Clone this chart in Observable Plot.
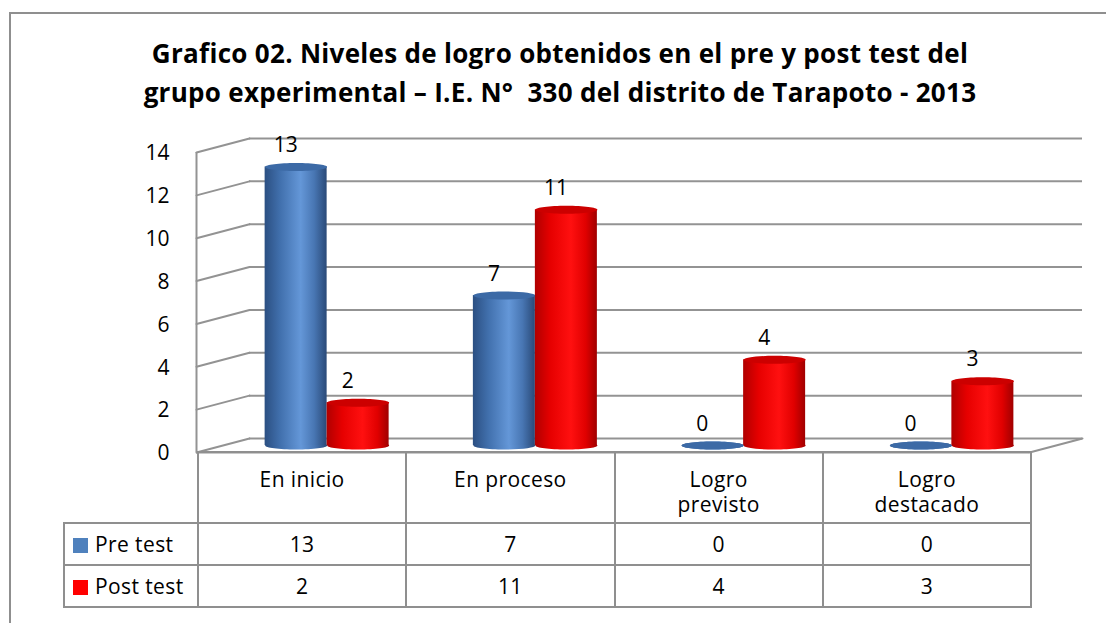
<!DOCTYPE html>
<html><head><meta charset="utf-8">
<script src="https://cdn.jsdelivr.net/npm/d3@7"></script>
<script src="https://cdn.jsdelivr.net/npm/@observablehq/plot@0.6"></script>
<style>
html,body{margin:0;padding:0;background:#fff;}
body{width:1106px;height:623px;overflow:hidden;position:relative;font-family:"Open Sans",sans-serif;color:#000;}
#frame{position:absolute;left:9px;top:12px;width:1200px;height:700px;border:2px solid #8f8f8f;box-sizing:border-box;}
#title{position:absolute;left:0;width:1120px;top:34px;text-align:center;font-weight:bold;font-size:26px;letter-spacing:0.3px;line-height:39px;white-space:pre;}
#chart{position:absolute;left:0;top:0;}
#tbl{position:absolute;left:63px;top:451px;border-collapse:collapse;table-layout:fixed;font-size:21px;letter-spacing:0.4px;}
#tbl td{border:2px solid #8f8f8f;padding:0;text-align:center;}
#tbl td.blank{border:none;}
#tbl tr.head td{height:71px;vertical-align:top;padding-top:14px;line-height:25px;white-space:pre-line;box-sizing:border-box;}
#tbl tr.row td{height:40px;vertical-align:middle;}
#tbl td.name{text-align:left;padding-left:8px;white-space:nowrap;}
.sw{display:inline-block;width:15px;height:15px;margin-right:7px;vertical-align:-1px;}
</style></head>
<body>
<div id="frame"></div>
<div id="title"></div>
<div id="chart"></div>
<script>
// ---- data ----
const titleLines = ["Grafico 02. Niveles de logro obtenidos en el pre y post test del",
                    "grupo experimental – I.E. N°  330 del distrito de Tarapoto - 2013"];
const categories = ["En inicio", "En proceso", "Logro previsto", "Logro destacado"];
const categoryLabels = ["En inicio", "En proceso", "Logro\nprevisto", "Logro\ndestacado"];
const seriesNames = ["Pre test", "Post test"];
const preTest = [13, 7, 0, 0];
const postTest = [2, 11, 4, 3];
const yTicks = [0, 2, 4, 6, 8, 10, 12, 14];

// ---- styles ----
const gridColor = "#939393";
const depthX = 53, depthY = 14;            // 3D box depth in px
const depthLen = Math.hypot(depthX, depthY);
const depthAngle = Math.atan2(depthX, depthY) * 180 / Math.PI;
const barW = 62, capRy = 4;
const seriesStyle = [
  {grad: "gPre", cap: "#3c6aa6", swatch: "#4f81bd", shift: -barW / 2,
   stops: [[0, "#2b4f82"], [0.25, "#4170ad"], [0.58, "#6497d8"], [0.8, "#4876b3"], [1, "#2a4a78"]]},
  {grad: "gPost", cap: "#cc0000", swatch: "#ff0000", shift: barW / 2,
   stops: [[0, "#b00000"], [0.25, "#e60000"], [0.58, "#ff1010"], [0.82, "#e00000"], [1, "#a00000"]]}
];
const seriesValues = [preTest, postTest];

document.getElementById("title").textContent = titleLines.join("\n");

const ellipse = (rx, ry) => ({draw(c) {
  const k = 0.5523, ox = rx * k, oy = ry * k;
  c.moveTo(-rx, 0);
  c.bezierCurveTo(-rx, -oy, -ox, -ry, 0, -ry);
  c.bezierCurveTo(ox, -ry, rx, -oy, rx, 0);
  c.bezierCurveTo(rx, oy, ox, ry, 0, ry);
  c.bezierCurveTo(-ox, ry, -rx, oy, -rx, 0);
  c.closePath();
}});
const lineShape = {draw(c, l) { c.moveTo(0, 0); c.lineTo(0, -l); }};

const barMarks = seriesValues.flatMap((vals, s) => {
  const st = seriesStyle[s];
  const data = vals.map((v, i) => ({i, v}));
  const dx = depthX / 2 + st.shift, dy = -depthY / 2;
  return [
    Plot.dot(data, {x: d => d.i + 0.5, y: 0, dx, dy, symbol: ellipse(barW / 2, capRy), fill: `url(#${st.grad})`, stroke: "none"}),
    Plot.rectY(data, {x1: d => d.i + 0.5, x2: d => d.i + 0.5, y1: 0, y2: d => d.v, insetLeft: -barW / 2, insetRight: -barW / 2, dx, dy, fill: `url(#${st.grad})`}),
    Plot.dot(data, {x: d => d.i + 0.5, y: d => d.v, dx, dy, symbol: ellipse(barW / 2, capRy), fill: st.cap, stroke: "none"}),
    Plot.text(data, {x: d => d.i + 0.5, y: d => d.v, text: d => String(d.v), dx: dx - 10.5, dy: -22, lineAnchor: "bottom", fontSize: 21})
  ];
});

const chart = Plot.plot({
  width: 1106, height: 623,
  marginLeft: 196, marginRight: 77, marginTop: 152, marginBottom: 171,
  x: {domain: [0, categories.length], axis: null},
  y: {domain: [0, 14], axis: null},
  style: {fontFamily: "'Open Sans', sans-serif", fontSize: "21px", color: "#000", background: "transparent", overflow: "visible"},
  marks: [
    Plot.ruleY(yTicks, {y: d => d, dx: depthX, dy: -depthY, stroke: gridColor, strokeWidth: 2}),
    Plot.vector(yTicks, {x: 0, y: d => d, length: depthLen, rotate: depthAngle, anchor: "start", shape: lineShape, stroke: gridColor, strokeWidth: 2}),
    Plot.vector([0], {x: categories.length, y: 0, length: depthLen, rotate: depthAngle, anchor: "start", shape: lineShape, stroke: gridColor, strokeWidth: 2}),
    Plot.ruleY([0], {stroke: gridColor, strokeWidth: 2}),
    Plot.ruleX([0], {y1: 0, y2: 14, stroke: gridColor, strokeWidth: 2}),
    Plot.axisY(yTicks, {tickSize: 0, tickPadding: 27, fontSize: 21, label: null, fill: "#000", dy: 1}),
    ...barMarks
  ]
});

// gradients
const ns = "http://www.w3.org/2000/svg";
const defs = document.createElementNS(ns, "defs");
for (const st of seriesStyle) {
  const g = document.createElementNS(ns, "linearGradient");
  g.setAttribute("id", st.grad);
  g.setAttribute("x1", "0"); g.setAttribute("x2", "1"); g.setAttribute("y1", "0"); g.setAttribute("y2", "0");
  for (const [o, c] of st.stops) {
    const s = document.createElementNS(ns, "stop");
    s.setAttribute("offset", o); s.setAttribute("stop-color", c);
    g.appendChild(s);
  }
  defs.appendChild(g);
}
chart.prepend(defs);
document.getElementById("chart").appendChild(chart);

// data table
const tbl = document.createElement("table");
tbl.id = "tbl";
const cg = document.createElement("colgroup");
[134, ...categories.map(() => 208.25)].forEach(w => { const c = document.createElement("col"); c.style.width = w + "px"; cg.appendChild(c); });
tbl.appendChild(cg);
const head = tbl.insertRow(); head.className = "head";
const blank = head.insertCell(); blank.className = "blank";
categoryLabels.forEach(l => { head.insertCell().textContent = l; });
seriesNames.forEach((name, s) => {
  const r = tbl.insertRow(); r.className = "row";
  const c0 = r.insertCell(); c0.className = "name";
  c0.innerHTML = `<span class="sw" style="background:${seriesStyle[s].swatch}"></span>${name}`;
  seriesValues[s].forEach(v => { r.insertCell().textContent = v; });
});
document.body.appendChild(tbl);
</script>
</body></html>
